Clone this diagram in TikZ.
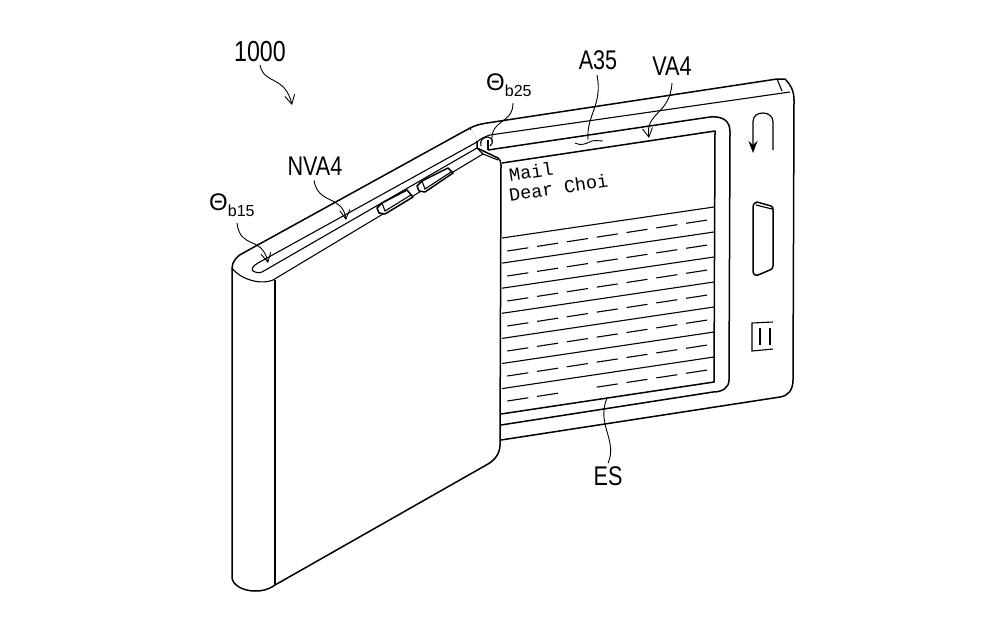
\documentclass[tikz,border=0pt]{standalone}
\usepackage{fontspec}
\setmainfont{Liberation Sans}
\newfontfamily\tallfont[FakeStretch=0.8]{Liberation Sans}
\newfontfamily\mailfont{Liberation Mono}
\usetikzlibrary{arrows.meta}
\tikzset{
    outline/.style={black, line width=1.5pt, line join=round},
    thinline/.style={black, line width=1.1pt},
    leader/.style={black, line width=0.9pt, -{Straight Barb[length=9pt, width=10pt]}},
    plainleader/.style={black, line width=0.9pt},
    reflabel/.style={inner sep=0pt, font=\tallfont\fontsize{27}{27}\selectfont},
    mailtext/.style={inner sep=0pt, anchor=south west, rotate=8.7, align=left, font=\mailfont\fontsize{18.5}{20}\selectfont},
}
\newcommand{\anglelabel}[1]{\fontspec{Liberation Sans}\fontsize{24}{24}\selectfont Θ\raisebox{-6pt}{\fontsize{16}{16}\selectfont #1}}
\begin{document}
\begin{tikzpicture}[x=1pt, y=-1pt]
    \useasboundingbox (0, 0) rectangle (1000, 637);
    % right panel
    \draw[outline] (470, 128) .. controls (476, 125) and (481, 124) .. (487, 123) -- (777, 79) -- (785, 79)
        .. controls (790, 84) and (794, 90) .. (794, 100) -- (793, 380)
        .. controls (793, 390) and (788, 396) .. (780, 397) -- (501, 440);
    \draw[thinline] (477, 142) .. controls (480, 139) and (484, 137) .. (490, 135) -- (790, 92);
    \draw[thinline] (777, 79) -- (782, 91);
    \draw[outline] (488, 150) -- (710, 117) .. controls (722, 116) and (730, 120) .. (730, 132) -- (729, 380)
        .. controls (729, 388) and (722, 392) .. (713, 392) -- (501, 425);
    \draw[thinline] (488, 140) -- (488, 150);
    \draw[thinline] (481, 146) .. controls (479, 140) and (484, 137) .. (488, 137)
        .. controls (493, 138) and (494, 143) .. (490, 146);
    % screen
    \draw[outline] (502, 163) -- (715, 131) -- (714, 382) -- (501, 414);
    \foreach \i in {0,...,6} {
        \draw[thinline] (502, 238 + 25.1*\i) -- (714, 207 + 25*\i);
    }
    \foreach \i in {0,...,6} {
        \foreach \j in {0,...,6} {
            \ifnum\i\j=62\else
            \draw[thinline] (507.3 + 29.8*\j, 251 + 25*\i - 4.62*\j) -- (528.3 + 29.8*\j, 247.8 + 25*\i - 4.62*\j);
            \fi
        }
    }
    \node[mailtext] (mail) at (510, 202) {\hspace*{3pt}Mail\\Dear Choi};
    % right side parts
    \draw[thinline, line width=1.2pt, -{Stealth[length=12pt, width=9pt]}] (773, 150) -- (773, 122)
        .. controls (773, 116) and (768, 113) .. (763, 113)
        .. controls (757, 113) and (753, 116) .. (753, 122) -- (753, 153);
    \draw[outline] (753, 208) .. controls (753, 204) and (755, 202) .. (757, 202) -- (771, 206)
        .. controls (773, 207) and (773, 208) .. (773, 210) -- (773, 266)
        .. controls (773, 268) and (772, 269) .. (770, 270) -- (758, 275)
        .. controls (755, 276) and (753, 274) .. (753, 271) -- cycle;
    \draw[thinline] (756, 205) -- (772, 209);
    \draw[thinline] (773, 322) -- (752, 323) -- (752, 351) -- (773, 349);
    \draw[thinline] (760, 328) -- (760, 345);
    \draw[thinline] (770, 328) -- (770, 345);
    % left panel
    \draw[outline, fill=white] (245, 252) -- (470, 128) -- (477, 142) -- (477, 148) -- (498, 158)
        .. controls (500, 159) and (501, 162) .. (501, 165) -- (500, 445)
        .. controls (500, 453) and (495, 460) .. (488, 464) -- (275, 585)
        .. controls (268, 590) and (262, 591) .. (255, 591)
        .. controls (243, 591) and (232, 585) .. (232, 577) -- (232, 268)
        .. controls (232, 261) and (238, 255) .. (245, 252);
    \draw[draw=white, line width=2.5pt] (470.5, 130) -- (476, 141);
    \draw[thinline] (232, 268) .. controls (238, 277) and (258, 286) .. (273, 280) -- (483, 154) -- (498, 160);
    \draw[thinline] (477, 148) -- (483, 154);
    \draw[thinline] (275, 280) -- (275, 585);
    % slot
    \draw[thinline] (477, 142) -- (258, 263) .. controls (252, 266) and (250, 271) .. (255, 272)
        .. controls (258, 273) and (260, 273) .. (262, 272) -- (477, 148);
    % buttons
    \draw[outline, fill=white] (377, 208) -- (382, 203) -- (407, 190) -- (413, 197) -- (385, 214) -- (379, 213) -- cycle;
    \draw[thinline] (382, 203) -- (385, 211) -- (411, 195);
    \draw[outline, fill=white] (417, 186) -- (422, 181) -- (448, 168) -- (453, 173) -- (425, 192) -- (419, 191) -- cycle;
    \draw[thinline] (422, 181) -- (425, 189) -- (451, 172);
    % labels
    \node[reflabel, font=\tallfont\fontsize{29}{29}\selectfont] (device) at (260, 52) {1000};
    \node[reflabel, anchor=west] (anglea) at (209, 205) {\anglelabel{b15}};
    \node[reflabel, anchor=west] (angleb) at (486, 85) {\anglelabel{b25}};
    \node[reflabel] (nva) at (315, 166) {NVA4};
    \node[reflabel] (area) at (598, 60) {A35};
    \node[reflabel] (va) at (672, 66) {VA4};
    \node[reflabel] (es) at (608, 476) {ES};
    \coordinate (devicetip) at (292, 105);
    \coordinate (angleatip) at (268, 263);
    \coordinate (anglebtip) at (492, 142);
    \coordinate (nvatip) at (346, 220);
    \coordinate (areatip) at (588, 140);
    \coordinate (vatip) at (649, 138);
    \coordinate (estip) at (607, 398);
    % leaders
    \draw[leader] (260, 65) .. controls (264, 85) and (285, 75) .. (devicetip);
    \draw[leader] (237, 223) .. controls (240, 250) and (262, 235) .. (angleatip);
    \draw[plainleader] (513, 103) .. controls (513, 125) and (490, 118) .. (anglebtip);
    \draw[leader] (nva.south) ++(-1, 5) .. controls (318, 205) and (343, 195) .. (nvatip);
    \draw[plainleader] (597, 75) .. controls (603, 105) and (586, 115) .. (areatip);
    \draw[plainleader] (575, 143) .. controls (582, 146) and (585, 144) .. (592, 141) .. controls (596, 140) and (600, 141) .. (603, 141);
    \draw[leader] (672, 83) .. controls (670, 115) and (645, 112) .. (vatip);
    \draw[plainleader] (es.north) ++(0, -3) .. controls (618, 440) and (596, 425) .. (estip);
\end{tikzpicture}
\end{document}
